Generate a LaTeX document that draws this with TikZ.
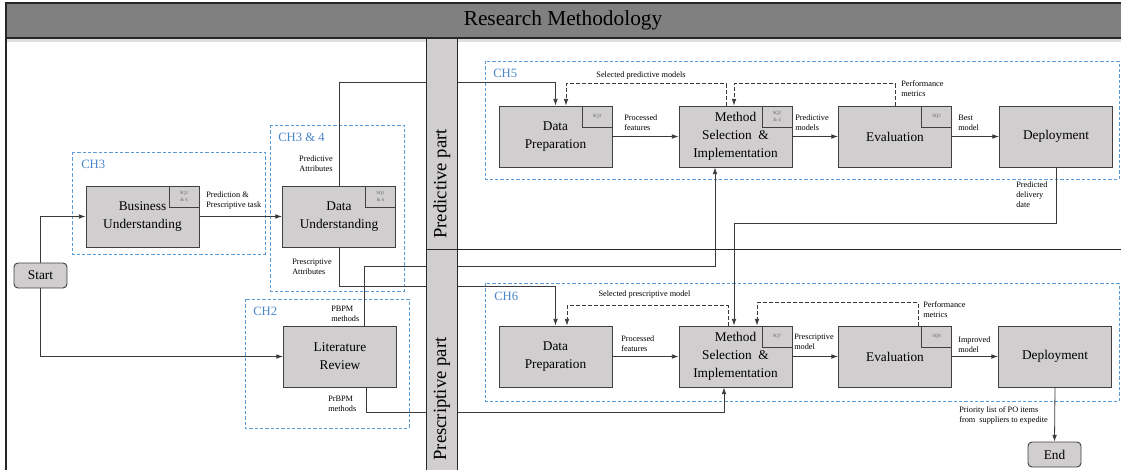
\documentclass[tikz,border=0pt]{standalone}
\usepackage{fontspec}
\setmainfont{Liberation Serif}
\usetikzlibrary{positioning,
        shapes,
        arrows.meta,
        calc}
\definecolor{boxgray}{HTML}{D0CECE}
\definecolor{bargray}{HTML}{808080}
\definecolor{chblue}{HTML}{5B9BD5}
\definecolor{chtext}{HTML}{4A86C8}
\definecolor{linegray}{HTML}{3A3A3A}

\begin{document}
\begin{tikzpicture}[x=0.75pt,y=-0.75pt,
    stage/.style={rectangle,draw=black!75,fill=boxgray,line width=0.7pt,minimum width=84.75pt,minimum height=45.75pt,inner sep=1pt,align=center,font=\fontsize{10}{13.5}\selectfont},
    sqbox/.style={rectangle,draw=black!75,fill=boxgray,line width=0.6pt,minimum width=22.5pt,minimum height=15.75pt,inner sep=0pt,anchor=north east,align=center,text=black!60,font=\fontsize{3.6}{4.6}\selectfont},
    term/.style={rectangle,rounded corners=3pt,draw=black!75,fill=boxgray,line width=0.7pt,minimum width=39.75pt,minimum height=18.75pt,font=\fontsize{10}{12}\selectfont},
    lbl/.style={inner sep=0pt,anchor=west,align=left,font=\fontsize{6.2}{7.5}\selectfont},
    chbox/.style={draw=chblue,line width=0.6pt,dash pattern=on 2.5pt off 1.5pt},
    chlbl/.style={inner sep=0pt,anchor=west,text=chtext,font=\fontsize{9.5}{11}\selectfont},
    flow/.style={draw=linegray,line width=0.6pt,-{Latex[length=5pt,width=3.5pt]}},
    fb/.style={flow,dash pattern=on 3pt off 1.5pt},
    lane/.style={draw=black!85,fill=boxgray,line width=0.7pt}]
    \useasboundingbox (0,0) rectangle (1121,469);

    % title bar and frame
    \fill[black!12] (6,38) rectangle (1121,42);
    \filldraw[draw=black!85,fill=bargray,line width=0.8pt] (6,3) rectangle (1123,38);
    \node (title) at (563,20.5) {\fontsize{16}{18}\selectfont Research Methodology};
    \draw[black!85,line width=0.8pt] (6,38) -- (6,471);

    % chapter boxes
    \draw[chbox] (72,152) rectangle (265,254);
    \draw[chbox] (270,125) rectangle (404,291);
    \draw[chbox] (245,299) rectangle (409,428);
    \draw[chbox] (485,61) rectangle (1119,179);
    \draw[chbox] (485,283) rectangle (1119,401);
    \node[chlbl] (ch3) at (81,164) {CH3};
    \node[chlbl] (ch34) at (278,137) {CH3 \& 4};
    \node[chlbl] (ch2) at (253,311) {CH2};
    \node[chlbl] (ch5) at (493,73) {CH5};
    \node[chlbl] (ch6) at (494,296) {CH6};

    % left part
    \node[term] (start) at (40.5,275.5) {Start};
    \node[stage] (bu) at (142.5,216.5) {Business\\Understanding};
    \node[stage] (du) at (339,216.5) {Data\\Understanding};
    \node[stage] (lr) at (340,356.5) {Literature\\Review};
    \node[sqbox] (bu sq) at (bu.north east) {SQ1\\\& 6};
    \node[sqbox] (du sq) at (du.north east) {SQ1\\\& 6};

    % predictive part
    \node[stage] (pdp) at (555.5,136.5) {Data\\Preparation};
    \node[stage] (pms) at (735.5,136.5) {Method\\Selection \ \&\\Implementation};
    \node[stage] (peval) at (895,136.5) {Evaluation};
    \node[stage] (pdep) at (1056,136.5) {Deployment};
    \node[sqbox] (pdp sq) at (pdp.north east) {SQ3};
    \node[sqbox] (pms sq) at (pms.north east) {SQ2\\\& 4};
    \node[sqbox] (peval sq) at (peval.north east) {SQ5};

    % prescriptive part
    \node[stage] (sdp) at (555.5,356.5) {Data\\Preparation};
    \node[stage] (sms) at (735.5,356.5) {Method\\Selection \ \&\\Implementation};
    \node[stage] (seval) at (895,356.5) {Evaluation};
    \node[stage] (sdep) at (1055,356.5) {Deployment};
    \node[sqbox] (sms sq) at (sms.north east) {SQ7};
    \node[sqbox] (seval sq) at (seval.north east) {SQ8};
    \node[term] (end) at (1054.5,454.5) {End};

    % connectors
    \draw[flow] (start.north) |- (bu.west);
    \draw[flow] (start.south) |- (lr.west);
    \draw[flow] (bu.east) -- (du.west);
    \draw[flow] (du.north) -- ++(0,-103) -| (pdp.north);
    \draw[flow] (du.south) -- ++(0,39) -| (sdp.north);
    \draw[flow] ($(lr.north)+(24,0)$) -- ++(0,-59) -| ($(pms.south)+(-20.5,0)$);
    \draw[flow] ($(lr.south)+(26,0)$) -- ++(0,25) -| ($(sms.south)+(-11.5,0)$);
    \draw[flow] (pdp.east) -- (pms.west);
    \draw[flow] (pms.east) -- (peval.west);
    \draw[flow] (peval.east) -- (pdep.west);
    \draw[flow] (sdp.east) -- (sms.west);
    \draw[flow] (sms.east) -- (seval.west);
    \draw[flow] (seval.east) -- (sdep.west);
    \draw[flow] (pdep.south) -- ++(0,56) -| ($(sms.north)+(-1.5,0)$);
    \draw[flow] (sdep.south) -- (end.north);
    \draw[fb] ($(pms.north)+(-9.5,0)$) -- ++(0,-22) -| ($(pdp.north)+(10.5,0)$);
    \draw[fb] (peval.north) -- ++(0,-22) -| ($(pms.north)+(-1.5,0)$);
    \draw[fb] ($(sms.north)+(-7.5,0)$) -- ++(0,-20) -| ($(sdp.north)+(11.5,0)$);
    \draw[fb] ($(seval.north)+(23,0)$) -- ++(0,-23) -| ($(sms.north)+(21.5,0)$);

    % connector labels
    \node[lbl] (l task) at (206,201) {Prediction \&\\Prescriptive task};
    \node[lbl,align=center,anchor=center] (l pattr) at (316,164) {Predictive\\Attributes};
    \node[lbl] (l sattr) at (292,266.5) {Prescriptive\\Attributes};
    \node[lbl] (l pbpm) at (331,314) {PBPM\\methods};
    \node[lbl] (l prbpm) at (328,404) {PrBPM\\methods};
    \node[lbl] (l pfeat) at (624,123) {Processed\\features};
    \node[lbl] (l pmod) at (795,123) {Predictive\\models};
    \node[lbl] (l best) at (958,123) {Best\\model};
    \node[lbl,anchor=center] (l psel) at (641,76) {Selected predictive models};
    \node[lbl] (l pperf) at (901,89) {Performance\\metrics};
    \node[lbl] (l date) at (1016,195) {Predicted\\delivery\\date};
    \node[lbl] (l sfeat) at (621,344) {Processed\\features};
    \node[lbl] (l smod) at (794,342) {Prescriptive\\model};
    \node[lbl] (l impr) at (958,345) {Improved\\model};
    \node[lbl,anchor=center] (l ssel) at (644.5,295) {Selected prescriptive model};
    \node[lbl] (l sperf) at (923,310) {Performance\\metrics};
    \node[lbl] (l prio) at (959,415) {Priority list of PO items\\from\ \ suppliers to expedite};

    % lanes
    \draw[black!85,line width=0.7pt] (426,249) -- (1123,249);
    \filldraw[lane] (426,38) rectangle (457,249);
    \filldraw[lane] (426,249) rectangle (457,472);
    \node[rotate=90] (pred lane) at (442,184) {\fontsize{14}{16}\selectfont Predictive part};
    \node[rotate=90] (presc lane) at (442,399) {\fontsize{14}{16}\selectfont Prescriptive part};
\end{tikzpicture}
\end{document}
